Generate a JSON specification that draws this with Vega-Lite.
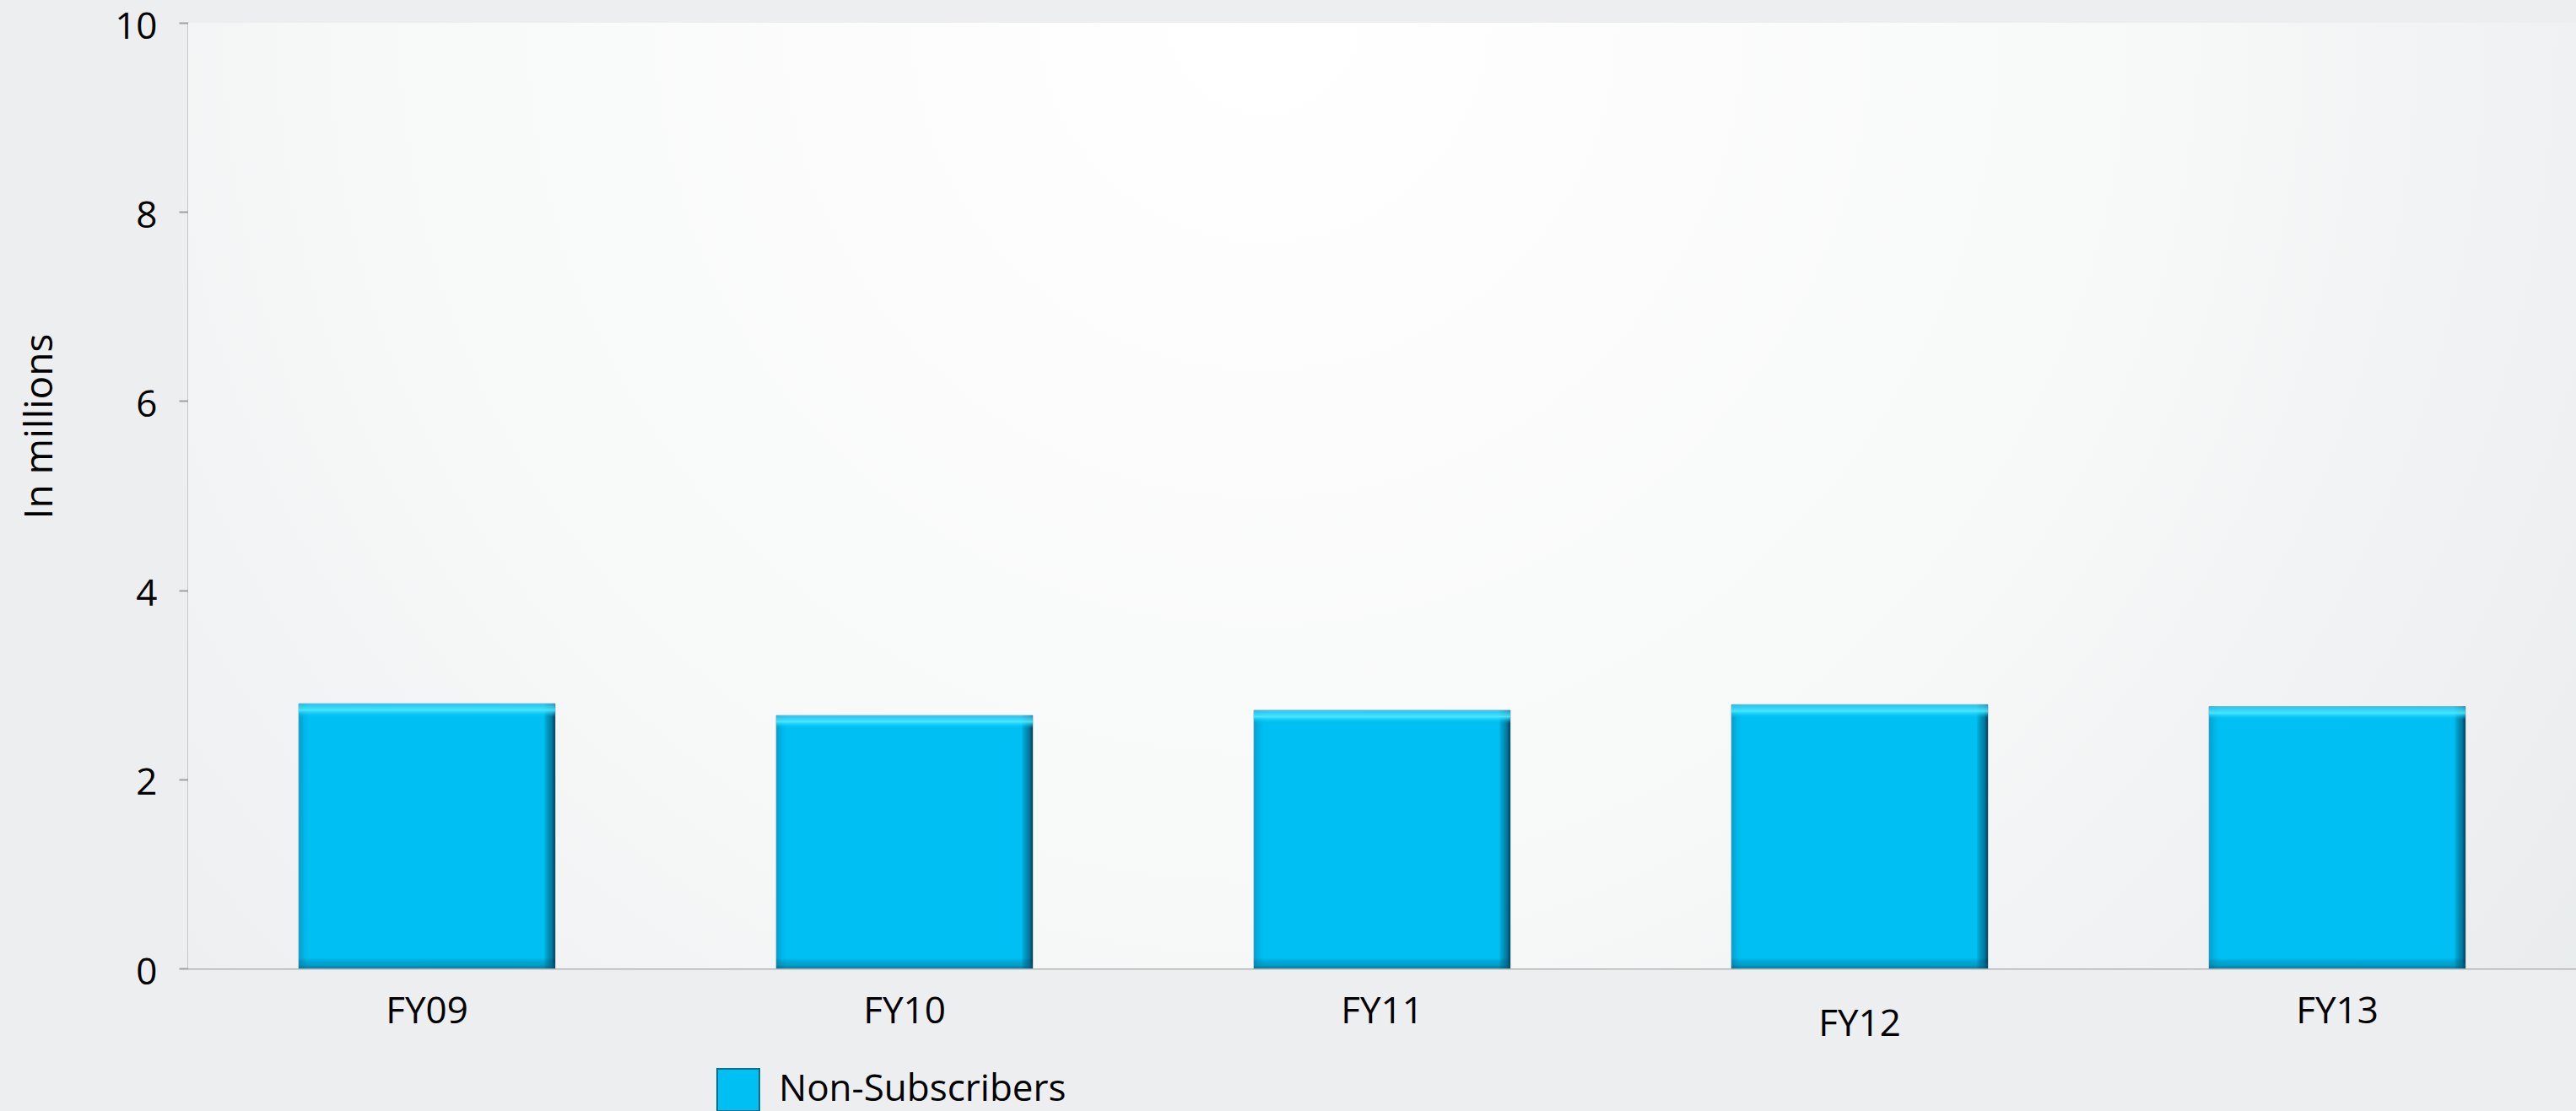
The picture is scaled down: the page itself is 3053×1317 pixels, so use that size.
{
  "$schema": "https://vega.github.io/schema/vega-lite/v6.json",
  "autosize": "none",
  "width": 2830,
  "height": 1121,
  "padding": {"left": 223, "top": 27, "right": 0, "bottom": 169},
  "background": "#eceef0",
  "config": {
    "font": "Open Sans",
    "view": {"stroke": null},
    "axis": {"labelColor": "#000000", "titleColor": "#000000", "labelFont": "Open Sans", "titleFont": "Open Sans"}
  },
  "data": {
    "values": [
      {"year": "FY09", "value": 2.80, "series": "Non-Subscribers"},
      {"year": "FY10", "value": 2.675, "series": "Non-Subscribers"},
      {"year": "FY11", "value": 2.73, "series": "Non-Subscribers"},
      {"year": "FY12", "value": 2.79, "series": "Non-Subscribers"},
      {"year": "FY13", "value": 2.77, "series": "Non-Subscribers"}
    ]
  },
  "layer": [
    {
      "data": {"values": [{"bg": 1}]},
      "mark": {
        "type": "rect",
        "fill": {
          "gradient": "radial",
          "x1": 0.45, "y1": 0.3, "r1": 0,
          "x2": 0.45, "y2": 0.3, "r2": 0.75,
          "stops": [
            {"offset": 0, "color": "#ffffff"},
            {"offset": 0.5, "color": "#f7f8f8"},
            {"offset": 1, "color": "#e6e9eb"}
          ]
        }
      },
      "encoding": {}
    },
    {
      "mark": {"type": "bar", "stroke": "#8fb3c0", "strokeWidth": 1},
      "encoding": {
        "x": {
          "field": "year", "type": "nominal",
          "scale": {"paddingInner": 0.463, "paddingOuter": 0.2315},
          "axis": {
            "title": null, "labelAngle": 0, "ticks": false,
            "labelFontSize": 44, "labelBaseline": "top",
            "labelPadding": {"condition": {"test": "datum.value == 'FY12'", "value": 44}, "value": 29},
            "domainColor": "#b3b3b3", "domainWidth": 2
          }
        },
        "y": {
          "field": "value", "type": "quantitative",
          "scale": {"domain": [0, 10], "nice": false},
          "axis": {
            "title": "In millions", "values": [0, 2, 4, 6, 8, 10], "format": "d",
            "grid": false, "labelFontSize": 44, "labelPadding": 26, "labelOffset": 5,
            "tickSize": 11, "tickColor": "#a0a0a0", "domainColor": "#a0a0a0", "domainWidth": 2, "tickWidth": 2,
            "titleFontSize": 46, "titleFontWeight": "normal", "titleAngle": -90,
            "titleBaseline": "alphabetic", "titleAlign": "center",
            "titleX": -162, "titleY": 478
          }
        },
        "color": {
          "field": "series", "type": "nominal",
          "scale": {"domain": ["Non-Subscribers"], "range": ["#00c0f3"]},
          "legend": {
            "title": null, "orient": "none", "legendX": 626, "legendY": 1239,
            "symbolType": "square", "symbolSize": 2500, "symbolStrokeColor": "#0a6f8f", "symbolStrokeWidth": 2,
            "symbolOpacity": 1, "labelLimit": 1000,
            "labelFontSize": 44, "labelColor": "#000000", "labelOffset": 22, "padding": 0
          }
        }
      }
    },
    {
      "mark": {
        "type": "bar",
        "fill": {
          "gradient": "linear", "x1": 0, "y1": 0, "x2": 1, "y2": 0,
          "stops": [
            {"offset": 0, "color": "rgba(0,110,150,0.4)"},
            {"offset": 0.045, "color": "rgba(0,170,220,0.0)"},
            {"offset": 0.955, "color": "rgba(0,0,0,0)"},
            {"offset": 0.985, "color": "rgba(0,60,90,0.5)"},
            {"offset": 1, "color": "rgba(0,30,50,0.8)"}
          ]
        }
      },
      "encoding": {
        "x": {"field": "year", "type": "nominal"},
        "y": {"field": "value", "type": "quantitative"}
      }
    },
    {
      "mark": {
        "type": "bar",
        "fill": {
          "gradient": "linear", "x1": 0, "y1": 0, "x2": 0, "y2": 1,
          "stops": [
            {"offset": 0, "color": "rgba(60,200,240,0.6)"},
            {"offset": 0.025, "color": "rgba(80,235,255,0.9)"},
            {"offset": 0.05, "color": "rgba(0,192,243,0)"},
            {"offset": 0.96, "color": "rgba(0,0,0,0)"},
            {"offset": 0.985, "color": "rgba(0,90,120,0.3)"},
            {"offset": 1, "color": "rgba(0,80,110,0.6)"}
          ]
        }
      },
      "encoding": {
        "x": {"field": "year", "type": "nominal"},
        "y": {"field": "value", "type": "quantitative"}
      }
    }
  ]
}
